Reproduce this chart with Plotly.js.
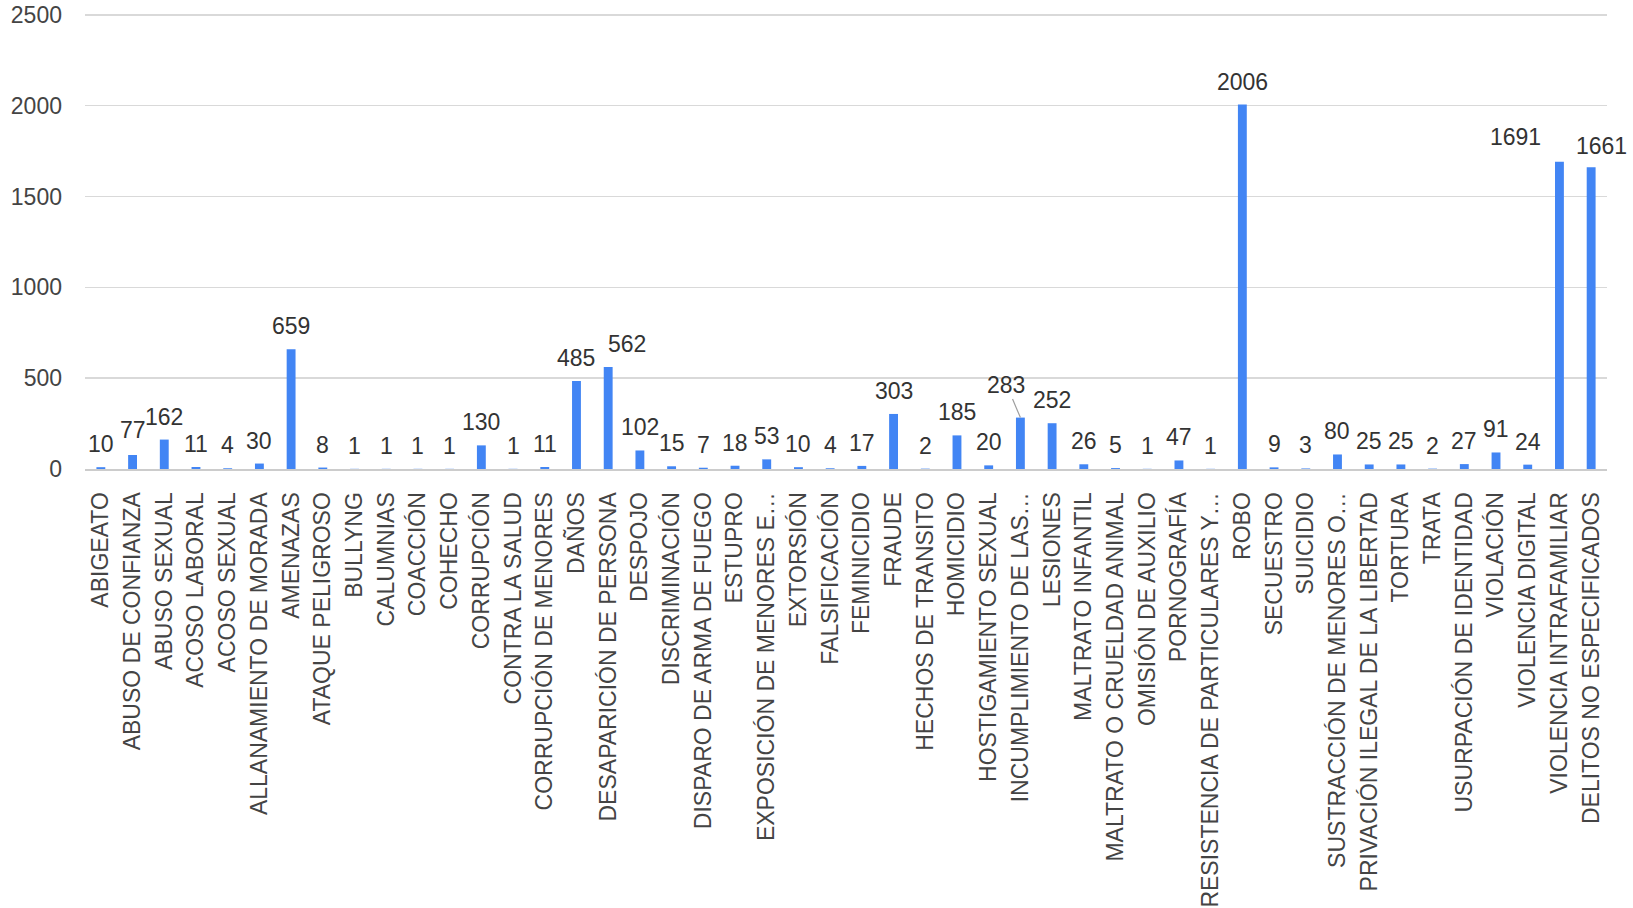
<!DOCTYPE html>
<html>
<head>
<meta charset="utf-8">
<script src="https://cdn.plot.ly/plotly-3.0.1.min.js"></script>
<style>html,body{margin:0;padding:0;background:#fff;}#chart{width:1633px;height:908px;}</style>
</head>
<body>
<div id="chart"></div>
<script>
const categories = [
  "ABIGEATO","ABUSO DE CONFIANZA","ABUSO SEXUAL","ACOSO LABORAL","ACOSO SEXUAL",
  "ALLANAMIENTO DE MORADA","AMENAZAS","ATAQUE PELIGROSO","BULLYNG","CALUMNIAS",
  "COACCIÓN","COHECHO","CORRUPCIÓN","CONTRA LA SALUD","CORRUPCIÓN DE MENORES",
  "DAÑOS","DESAPARICIÓN DE PERSONA","DESPOJO","DISCRIMINACIÓN","DISPARO DE ARMA DE FUEGO",
  "ESTUPRO","EXPOSICIÓN DE MENORES E…","EXTORSIÓN","FALSIFICACIÓN","FEMINICIDIO",
  "FRAUDE","HECHOS DE TRANSITO","HOMICIDIO","HOSTIGAMIENTO SEXUAL","INCUMPLIMIENTO DE LAS…",
  "LESIONES","MALTRATO INFANTIL","MALTRATO O CRUELDAD ANIMAL","OMISIÓN DE AUXILIO","PORNOGRAFÍA",
  "RESISTENCIA DE PARTICULARES Y…","ROBO","SECUESTRO","SUICIDIO","SUSTRACCIÓN DE MENORES O…",
  "PRIVACIÓN ILEGAL DE LA LIBERTAD","TORTURA","TRATA","USURPACIÓN DE IDENTIDAD","VIOLACIÓN",
  "VIOLENCIA DIGITAL","VIOLENCIA INTRAFAMILIAR","DELITOS NO ESPECIFICADOS"
];
const values = [
  10,77,162,11,4,
  30,659,8,1,1,
  1,1,130,1,11,
  485,562,102,15,7,
  18,53,10,4,17,
  303,2,185,20,283,
  252,26,5,1,47,
  1,2006,9,3,80,
  25,25,2,27,91,
  24,1691,1661
];
const yTicks = [0,500,1000,1500,2000,2500];

// label nudges (style only, pixels): category -> [dx, dy]
const labelNudge = {
  "DESAPARICIÓN DE PERSONA": [19, 0],
  "VIOLENCIA INTRAFAMILIAR": [-44, 2],
  "DELITOS NO ESPECIFICADOS": [10, -2],
  "ABUSO DE CONFIANZA": [0, 2]
};
const leaderLabel = "INCUMPLIMIENTO DE LAS…";

const FONT = 'Liberation Sans, Arial, sans-serif';

const trace = {
  type: 'bar',
  x: categories,
  y: values,
  marker: {color: '#4285F4'},
  hoverinfo: 'x+y'
};

const annotations = categories.map((c, i) => {
  const n = labelNudge[c] || [0, 0];
  if (c === leaderLabel) {
    return {
      x: c, y: values[i], xref: 'x', yref: 'y',
      text: String(values[i]),
      showarrow: true, arrowhead: 0, arrowwidth: 1.2, arrowcolor: '#9e9e9e',
      ax: -14, ay: -33, standoff: 0,
      font: {family: FONT, size: 23, color: '#333333'}
    };
  }
  return {
    x: c, y: values[i], xref: 'x', yref: 'y',
    text: String(values[i]),
    showarrow: false,
    xanchor: 'center', yanchor: 'bottom',
    xshift: n[0], yshift: 8 + n[1],
    font: {family: FONT, size: 23, color: '#333333'}
  };
});

const layout = {
  width: 1633, height: 908,
  margin: {l: 85, r: 26, t: 13, b: 439},
  paper_bgcolor: '#ffffff',
  plot_bgcolor: 'rgba(0,0,0,0)',
  bargap: 0.72,
  showlegend: false,
  font: {family: FONT, size: 23, color: '#444444'},
  annotations: annotations,
  xaxis: {
    type: 'category',
    range: [-0.5, categories.length - 0.5],
    autorange: false,
    tickangle: -90,
    tickfont: {size: 23, color: '#444444'},
    showgrid: false,
    showline: true,
    linecolor: '#cccccc',
    linewidth: 2,
    ticks: '',
    ticklabelstandoff: 12,
    automargin: false
  },
  yaxis: {
    range: [0, 2510],
    autorange: false,
    tickvals: yTicks,
    ticktext: yTicks.map(String),
    tickfont: {size: 23, color: '#444444'},
    showgrid: true,
    gridcolor: '#d9d9d9',
    gridwidth: 1.5,
    zeroline: false,
    showline: false,
    ticks: '',
    ticklabelstandoff: 22,
    automargin: false
  }
};

Plotly.newPlot('chart', [trace], layout, {displayModeBar: false, staticPlot: true});
</script>
</body>
</html>
